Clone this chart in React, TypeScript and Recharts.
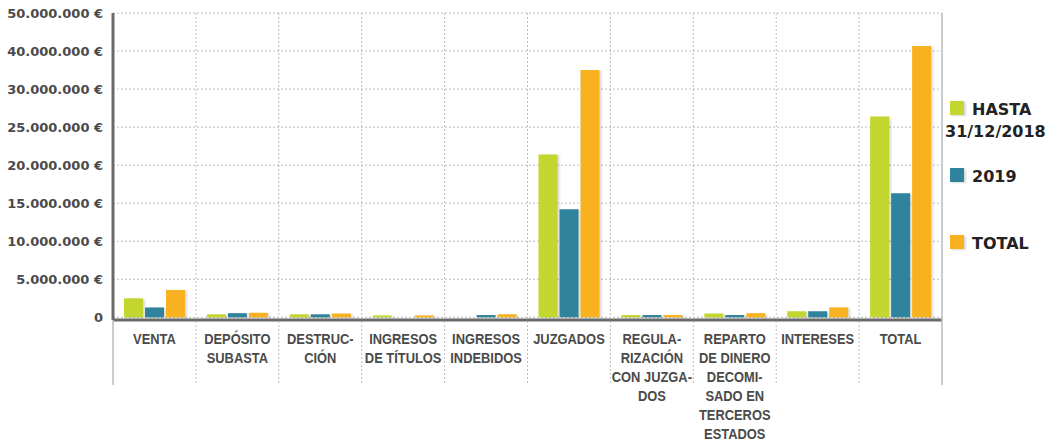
import { BarChart, Bar, XAxis, YAxis, CartesianGrid, Legend } from "recharts";

// category labels, one entry per line break as in the picture
const categoryLines: string[][] = [
  ["VENTA"],
  ["DEPÓSITO", "SUBASTA"],
  ["DESTRUC-", "CIÓN"],
  ["INGRESOS", "DE TÍTULOS"],
  ["INGRESOS", "INDEBIDOS"],
  ["JUZGADOS"],
  ["REGULA-", "RIZACIÓN", "CON JUZGA-", "DOS"],
  ["REPARTO", "DE DINERO", "DECOMI-", "SADO EN", "TERCEROS", "ESTADOS"],
  ["INTERESES"],
  ["TOTAL"],
];

const hasta2018 = [2.5e6, 0.4e6, 0.4e6, 0.25e6, 0, 21.4e6, 0.3e6, 0.5e6, 0.8e6, 26.4e6];
const year2019 = [1.3e6, 0.55e6, 0.4e6, 0, 0.3e6, 14.2e6, 0.3e6, 0.3e6, 0.8e6, 16.3e6];
const totals = [3.6e6, 0.6e6, 0.5e6, 0.25e6, 0.4e6, 35e6, 0.3e6, 0.55e6, 1.3e6, 41.3e6];

const yTickValues = [0, 5e6, 10e6, 15e6, 20e6, 25e6, 30e6, 40e6, 50e6];

const seriesNames = ["HASTA 31/12/2018", "2019", "TOTAL"];
const seriesColors = ["#c3d62f", "#2f839c", "#f8b21f"];

// the original axis is compressed above 30M (10M per grid step instead of 5M)
const BREAK = 30e6;
const squash = (v: number) => (v <= BREAK ? v : BREAK + (v - BREAK) / 2);
const unsquash = (p: number) => (p <= BREAK ? p : BREAK + (p - BREAK) * 2);

const data = categoryLines.map((lines, i) => ({
  name: lines.join(" "),
  hasta: hasta2018[i],
  y2019: year2019[i],
  total: totals[i],
}));

const CHART_W = 1058;
const CHART_H = 443;
const TOP = 13;
const X_AXIS_H = 123;
const PLOT_H = CHART_H - TOP - X_AXIS_H;

const formatEuro = (p: number) => {
  const v = Math.round(unsquash(p));
  return v === 0 ? "0" : v.toLocaleString("de-DE") + " €";
};

const shadow = { filter: "drop-shadow(2px 1px 1px rgba(0,0,0,0.15))" };

const CategoryTick = (props: any) => {
  const { x, y, payload, index, width, visibleTicksCount } = props;
  const half =
    (payload && payload.offset) ||
    (width && visibleTicksCount ? width / visibleTicksCount / 2 : 41.45);
  const lines = categoryLines[index] || [];
  const last = index === categoryLines.length - 1;
  return (
    <g>
      {index === 0 && (
        <line x1={x - half} x2={x - half} y1={y} y2={y + 65} stroke="#bbbbbb" strokeWidth={1.5} />
      )}
      {last ? (
        <line x1={x + half} x2={x + half} y1={y - PLOT_H} y2={y + 65} stroke="#bbbbbb" strokeWidth={1.5} />
      ) : (
        <line
          x1={x + half}
          x2={x + half}
          y1={y - PLOT_H}
          y2={y + 65}
          stroke="#bdbdbd"
          strokeDasharray="2 2"
        />
      )}
      <g transform={`translate(${x},0) scale(0.86,1)`}>
        <text
          textAnchor="middle"
          fill="#4a4a4a"
          fontSize={15}
          fontWeight="bold"
          fontFamily="'Liberation Sans', Arial, sans-serif"
        >
          {lines.map((l, i) => (
            <tspan key={i} x={0} y={y + 24 + i * 19}>
              {l}
            </tspan>
          ))}
        </text>
      </g>
    </g>
  );
};

const renderLegend = ({ payload }: any) => {
  const items = [...(payload || [])].sort(
    (a: any, b: any) => seriesNames.indexOf(a.value) - seriesNames.indexOf(b.value)
  );
  return (
    <div style={{ fontFamily: "'DejaVu Sans', sans-serif", fontWeight: "bold", fontSize: 16, color: "#222" }}>
      {items.map((entry: any, i: number) => (
        <div key={i} style={{ height: 67, lineHeight: "22px" }}>
          <span
            style={{
              display: "inline-block",
              width: 14,
              height: 14,
              background: entry.color,
              marginLeft: 5,
              marginRight: 8,
              boxShadow: "2px 1px 2px rgba(0,0,0,0.15)",
            }}
          />
          {entry.value}
        </div>
      ))}
    </div>
  );
};

export default function App() {
  return (
    <div style={{ position: "absolute", left: 0, top: 0, background: "#fff" }}>
      <BarChart
        width={CHART_W}
        height={CHART_H}
        data={data}
        margin={{ top: TOP, right: 116, bottom: 0, left: 8 }}
        barSize={19}
        barGap={2}
      >
        <CartesianGrid vertical={false} stroke="#bdbdbd" strokeDasharray="2 2" />
        <XAxis
          dataKey="name"
          interval={0}
          tickLine={false}
          tickSize={0}
          tickMargin={0}
          height={X_AXIS_H}
          axisLine={{ stroke: "#6a6a6a", strokeWidth: 3 }}
          tick={<CategoryTick />}
        />
        <YAxis
          width={105}
          domain={[-0.35e6, squash(50e6)]}
          ticks={yTickValues.map(squash)}
          tickFormatter={formatEuro}
          tickLine={false}
          tickSize={0}
          tickMargin={10}
          axisLine={{ stroke: "#6a6a6a", strokeWidth: 3 }}
          tick={{ fill: "#4a4a4a", fontSize: 13, fontWeight: "bold", fontFamily: "'DejaVu Sans', sans-serif" }}
          allowDataOverflow
        />
        <Legend
          layout="vertical"
          align="center"
          verticalAlign="middle"
          content={renderLegend}
          wrapperStyle={{ left: 945, top: 99, width: 113 }}
        />
        <Bar dataKey={(d: any) => squash(d.hasta)} name={seriesNames[0]} fill={seriesColors[0]} isAnimationActive={false} style={shadow} />
        <Bar dataKey={(d: any) => squash(d.y2019)} name={seriesNames[1]} fill={seriesColors[1]} isAnimationActive={false} style={shadow} />
        <Bar dataKey={(d: any) => squash(d.total)} name={seriesNames[2]} fill={seriesColors[2]} isAnimationActive={false} style={shadow} />
      </BarChart>
    </div>
  );
}
